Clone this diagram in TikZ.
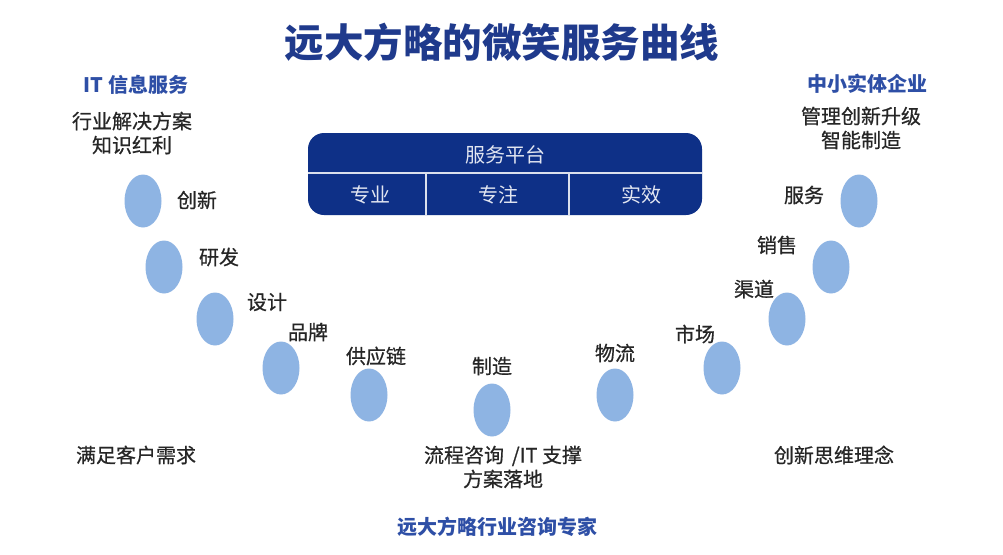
\documentclass[tikz,border=0pt]{standalone}
\usepackage{fontspec}
\setmainfont{Noto Sans CJK SC}
\newfontfamily\medfont[FakeBold=0.6]{Noto Sans CJK SC}
\usepackage{tikz}
\usetikzlibrary{shapes.geometric}
\definecolor{titleblue}{HTML}{1F3A8C}
\definecolor{labelblue}{HTML}{2E4FA6}
\definecolor{platblue}{HTML}{0E3087}
\definecolor{dotblue}{HTML}{8EB4E3}
\definecolor{txtgray}{HTML}{262626}
\tikzstyle{dot} = [ellipse, fill=dotblue, minimum width=37pt, minimum height=53pt, inner sep=0pt]
\tikzstyle{word} = [text=txtgray, font=\medfont\fontsize{20}{24}\selectfont, inner sep=1pt, align=center]
\tikzstyle{head} = [text=labelblue, font=\fontsize{20}{24}\selectfont\bfseries, inner sep=1pt]
\tikzstyle{platform} = [rectangle, rounded corners=16pt, fill=platblue, minimum width=394pt, minimum height=82pt, inner sep=0pt]
\tikzstyle{cell} = [text=white!88!platblue, font=\fontsize{20}{24}\selectfont, inner sep=1pt]
\tikzstyle{divider} = [white!85!platblue, line width=1.5pt]

\begin{document}
\begin{tikzpicture}[x=1pt, y=-1pt]
\useasboundingbox (0,0) rectangle (1003,554);
\fill[white] (0,0) rectangle (1003,554);
\node (title) [text=titleblue, font=\fontsize{39.5}{44}\selectfont\bfseries] at (502,42) {远大方略的微笑服务曲线};

% service platform
\node (plat) [platform] at (505,174) {};
\coordinate (hl) at (308,173);
\coordinate (hr) at (702,173);
\coordinate (v1t) at (426,173);
\coordinate (v1b) at (426,215);
\coordinate (v2t) at (569,173);
\coordinate (v2b) at (569,215);
\draw [divider] (hl) -- (hr);
\draw [divider] (v1t) -- (v1b);
\draw [divider] (v2t) -- (v2b);
\node (pname) [cell] at (505,155) {服务平台};
\node (pro) [cell] at (370,195) {专业};
\node (focus) [cell] at (498,195) {专注};
\node (effect) [cell] at (641,195) {实效};

% left end
\node (itserv) [head] at (136,85) {IT 信息服务};
\node (solut) [word] at (132,133) {行业解决方案\\知识红利};
\node (needs) [word] at (136,455) {满足客户需求};

% right end
\node (sme) [head] at (867,84) {中小实体企业};
\node (manage) [word] at (861,128) {管理创新升级\\智能制造};
\node (idea) [word] at (834,455) {创新思维理念};

% bottom
\node (flow) [word] at (503,467) {流程咨询 \,/IT 支撑\\方案落地};
\node (expert) [head] at (497,527) {远大方略行业咨询专家};

% smile curve
\node (d1) [dot] at (143,201) {};
\node (d2) [dot] at (164,267) {};
\node (d3) [dot] at (215,319) {};
\node (d4) [dot] at (281,368) {};
\node (d5) [dot] at (369,395) {};
\node (d6) [dot] at (492,410) {};
\node (d7) [dot] at (615,395) {};
\node (d8) [dot] at (722,368) {};
\node (d9) [dot] at (787,319) {};
\node (d10) [dot] at (831,267) {};
\node (d11) [dot] at (859,201) {};

\node (l1) [word] at (197,200) {创新};
\node (l2) [word] at (219,257) {研发};
\node (l3) [word] at (267,302) {设计};
\node (l4) [word] at (308,332) {品牌};
\node (l5) [word] at (376,356) {供应链};
\node (l6) [word] at (492,366) {制造};
\node (l7) [word] at (615,353) {物流};
\node (l8) [word] at (695,334) {市场};
\node (l9) [word] at (754,289) {渠道};
\node (l10) [word] at (777,245) {销售};
\node (l11) [word] at (804,195) {服务};
\end{tikzpicture}
\end{document}
